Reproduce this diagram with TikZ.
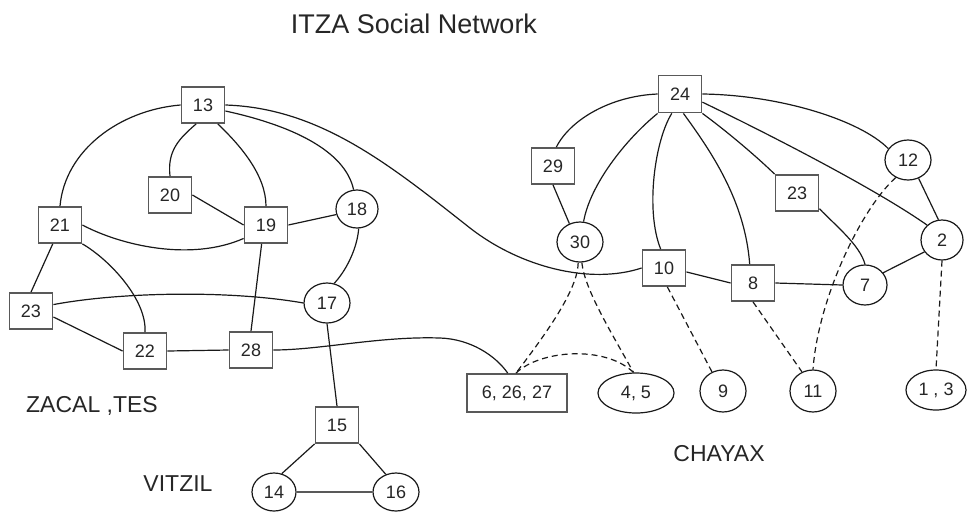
\documentclass[tikz,border=0pt]{standalone}
\usepackage{fontspec}
\setmainfont{Liberation Sans}
\usetikzlibrary{shapes.geometric}
\begin{document}
\begin{tikzpicture}[x=1pt,y=-1pt,
  boxn/.style={rectangle, draw=black!65, line width=1.8pt, fill=white, minimum width=43pt, minimum height=36pt, inner sep=0pt, font=\fontsize{18}{20}\selectfont, text=black!85},
  elln/.style={ellipse, draw=black!90, line width=1.2pt, fill=white, inner sep=0pt, minimum width=46pt, minimum height=40pt, font=\fontsize{18}{20}\selectfont, text=black!85},
  edge/.style={line width=1.2pt, black!90},
  dedge/.style={line width=1.2pt, black!90, dash pattern=on 6pt off 4pt},
  grp/.style={font=\fontsize{23}{26}\selectfont, text=black!85}]
\useasboundingbox (0,0) rectangle (968,512);

% nodes (coordinates in pixels)
\node[boxn] (n13) at (203,105) {13};
\node[boxn] (n20) at (170,195) {20};
\node[boxn] (n21) at (60,225) {21};
\node[boxn] (n19) at (266,225) {19};
\node[elln, minimum width=42pt, minimum height=38pt] (n18) at (357,209) {18};
\node[elln] (n17) at (327,303) {17};
\node[boxn] (l23) at (31,311) {23};
\node[boxn] (n22) at (145,351) {22};
\node[boxn] (n28) at (251,350) {28};
\node[boxn] (n15) at (337,425) {15};
\node[elln, minimum width=44pt, minimum height=38pt] (n14) at (274,492) {14};
\node[elln, minimum width=46pt, minimum height=38pt] (n16) at (396,492) {16};

\node[boxn, minimum height=37pt] (n24) at (680,94) {24};
\node[boxn] (n29) at (553,166) {29};
\node[elln] (n30) at (580,242) {30};
\node[boxn] (r23) at (797,193) {23};
\node[elln] (n12) at (908,160) {12};
\node[elln, minimum width=42pt] (n2) at (942,240) {2};
\node[boxn] (n10) at (664,268) {10};
\node[boxn] (n8) at (753,283) {8};
\node[elln, minimum width=44pt] (n7) at (865,285) {7};
\node[boxn, minimum width=100pt, minimum height=38pt] (nb) at (517,393) {6, 26, 27};
\node[elln, minimum width=76pt] (n45) at (636,393) {4, 5};
\node[elln, minimum height=42pt] (n9) at (723,391) {9};
\node[elln, minimum height=42pt] (n11) at (813,391) {11};
\node[elln, minimum width=60pt] (n13p) at (936,390) {1 , 3};

% left cluster edges
\draw[edge] (n13.west) .. controls (120,110) and (65,150) .. (n21.north);
\draw[edge] (n13.250) .. controls (180,138) and (167,150) .. (n20.north);
\draw[edge] (n13.308) .. controls (240,145) and (266,175) .. (n19.north);
\draw[edge] (n13.-15) .. controls (290,125) and (345,150) .. (n18.100);
\draw[edge] (n13.east) .. controls (320,108) and (390,165) .. (470,228)
  .. controls (520,267) and (590,285) .. (n10.west);
\draw[edge] (n20.east) -- (n19.west);
\draw[edge] (n21.east) .. controls (120,245) and (190,262) .. (n19.211);
\draw[edge] (n19.east) -- (n18.195);
\draw[edge] (n18.-85) .. controls (357,250) and (345,272) .. (n17.70);
\draw[edge] (n21.249) -- (l23.north);
\draw[edge] (n21.south east) .. controls (110,260) and (147,300) .. (n22.north);
\draw[edge] (l23.16) .. controls (120,292) and (230,290) .. (n17.west);
\draw[edge] (l23.-15) -- (n22.west);
\draw[edge] (n22.east) -- (n28.west);
\draw[edge] (n19.257) -- (n28.north);
\draw[edge] (n17.south) -- (n15.north);
\draw[edge] (n15.south west) -- (n14.67);
\draw[edge] (n15.south east) -- (n16.120);
\draw[edge, line width=1.8pt, black!65] (n14.east) -- (n16.west);
\draw[edge] (n28.east) .. controls (320,350) and (380,336) .. (440,338)
  .. controls (470,339) and (495,355) .. (nb.115);

% right cluster edges
\draw[edge] (n24.west) .. controls (610,96) and (570,120) .. (n29.80);
\draw[edge] (n24.south west) .. controls (625,140) and (590,185) .. (n30.80);
\draw[edge] (n29.south) -- (n30.120);
\draw[edge] (n24.247) .. controls (655,140) and (645,210) .. (n10.100);
\draw[edge] (n24.280) .. controls (710,150) and (745,200) .. (n8.100);
\draw[edge] (n24.south east) .. controls (725,130) and (755,155) .. (r23.north west);
\draw[edge] (n24.-20) .. controls (750,125) and (870,185) .. (n2.135);
\draw[edge] (n24.east) .. controls (780,95) and (860,120) .. (n12.150);
\draw[edge] (n12.-60) -- (n2.100);
\draw[edge] (r23.-35) .. controls (835,225) and (860,245) .. (n7.north);
\draw[edge] (n2.214) -- (n7.34);
\draw[edge] (n10.-10) -- (n8.west);
\draw[edge] (n8.east) -- (n7.west);

% dashed edges
\draw[dedge] (n2.south) -- (n13p.north);
\draw[dedge] (n12.-125) .. controls (860,210) and (818,300) .. (n11.north);
\draw[dedge] (n8.south) -- (n11.120);
\draw[dedge] (n10.-80) -- (n9.120);
\draw[dedge] (n30.-95) .. controls (578,290) and (545,335) .. (nb.93);
\draw[dedge] (n30.-85) .. controls (585,290) and (610,330) .. (n45.97);
\draw[dedge] (nb.93) .. controls (540,350) and (605,345) .. (n45.97);

% group labels
\node[font=\fontsize{27}{30}\selectfont, text=black!85] (title) at (414,24) {ITZA Social Network};
\node[grp] (zacal) at (92,406) {ZACAL ,TES};
\node[grp] (vitzil) at (178,484) {VITZIL};
\node[grp] (chayax) at (719,454) {CHAYAX};
\end{tikzpicture}
\end{document}
